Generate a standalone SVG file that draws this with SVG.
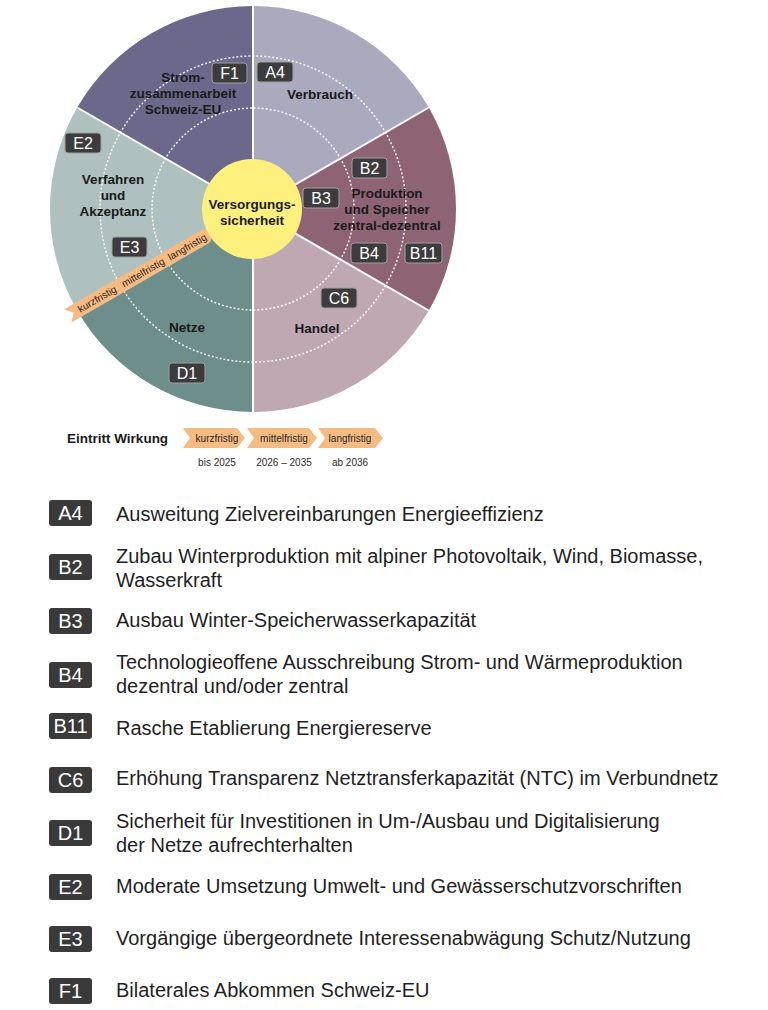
<svg xmlns="http://www.w3.org/2000/svg" width="768" height="1010" viewBox="0 0 768 1010">
<style>
.lbl{font-family:"Liberation Sans",Arial,sans-serif;font-weight:bold;font-size:13.5px;fill:#1a1a1a;text-anchor:middle}
.pb rect{fill:#3c3c3c;stroke:#a0a0a0;stroke-width:1}
.pb text{font-family:"Liberation Sans",Arial,sans-serif;font-size:16px;fill:#fff;text-anchor:middle}
.lb rect{fill:#3a3a3a}
.lb text.k{font-family:"Liberation Sans",Arial,sans-serif;font-size:20px;fill:#fff;text-anchor:middle}
.lt{font-family:"Liberation Sans",Arial,sans-serif;font-size:20px;fill:#1f1f1f}
.sm{font-family:"Liberation Sans",Arial,sans-serif;font-size:10px;fill:#2a2a2a;text-anchor:middle}
.dash{fill:none;stroke:#fff;stroke-width:1.5;stroke-dasharray:2 2;opacity:0.9}
.sep{stroke:#fff;stroke-width:2}
.chev{fill:#f6bb80}
</style>

<g id="seg-F">
<path d="M253,209 L77.2,107.5 A203,203 0 0 1 253,6 Z" fill="#6b688c"/>
</g>
<g id="seg-A">
<path d="M253,209 L253,6 A203,203 0 0 1 428.8,107.5 Z" fill="#aaa9be"/>
</g>
<g id="seg-B">
<path d="M253,209 L428.8,107.5 A203,203 0 0 1 428.8,310.5 Z" fill="#8e6474"/>
</g>
<g id="seg-C">
<path d="M253,209 L428.8,310.5 A203,203 0 0 1 253,412 Z" fill="#c0a8b2"/>
</g>
<g id="seg-D">
<path d="M253,209 L253,412 A203,203 0 0 1 77.2,310.5 Z" fill="#6e8e8b"/>
</g>
<g id="seg-E">
<path d="M253,209 L77.2,310.5 A203,203 0 0 1 77.2,107.5 Z" fill="#afc1be"/>
</g>

<g id="rings">
<circle class="dash" cx="253" cy="209" r="101"/>
<circle class="dash" cx="253" cy="209" r="153"/>
</g>

<g id="connectors">
<line class="sep" x1="253" y1="209" x2="253" y2="6"/>
<line class="sep" x1="253" y1="209" x2="428.8" y2="107.5"/>
<line class="sep" x1="253" y1="209" x2="428.8" y2="310.5"/>
<line class="sep" x1="253" y1="209" x2="253" y2="412"/>
<line class="sep" x1="253" y1="209" x2="77.2" y2="310.5"/>
<line class="sep" x1="253" y1="209" x2="77.2" y2="107.5"/>
</g>

<g id="time-arrow" transform="translate(253,209) rotate(-30)">
<polygon class="chev" points="-214,-7.5 -54,-7.5 -44,0 -54,7.5 -214,7.5 -207,0"/>
<text class="sm" x="-180" y="3.5" font-size="9.5">kurzfristig</text>
<text class="sm" x="-127" y="3.5" font-size="9.5">mittelfristig</text>
<text class="sm" x="-76" y="3.5" font-size="9.5">langfristig</text>
</g>

<g id="center">
<circle cx="252" cy="209" r="50" fill="#fef07c"/>
<text class="lbl" x="252" y="209">Versorgungs-</text>
<text class="lbl" x="252" y="225">sicherheit</text>
</g>

<g id="labels">
<text class="lbl" x="183" y="82">Strom-</text>
<text class="lbl" x="183" y="98">zusammenarbeit</text>
<text class="lbl" x="183" y="114">Schweiz-EU</text>
<text class="lbl" x="320" y="99">Verbrauch</text>
<text class="lbl" x="113" y="184">Verfahren</text>
<text class="lbl" x="113" y="200">und</text>
<text class="lbl" x="113" y="216">Akzeptanz</text>
<text class="lbl" x="387" y="198">Produktion</text>
<text class="lbl" x="387" y="214">und Speicher</text>
<text class="lbl" x="387" y="230">zentral-dezentral</text>
<text class="lbl" x="317" y="333">Handel</text>
<text class="lbl" x="187" y="332">Netze</text>
</g>

<g id="pie-badges" class="pb">
<g id="pb-F1"><rect x="212" y="63" width="35" height="20" rx="3"/><text x="229.5" y="79">F1</text></g>
<g id="pb-A4"><rect x="257" y="62" width="36" height="20" rx="3"/><text x="275" y="78">A4</text></g>
<g id="pb-E2"><rect x="65" y="133" width="36" height="20" rx="3"/><text x="83" y="149">E2</text></g>
<g id="pb-E3"><rect x="112" y="237" width="35" height="20" rx="3"/><text x="129.5" y="253">E3</text></g>
<g id="pb-B2"><rect x="352" y="158" width="35" height="20" rx="3"/><text x="369.5" y="174">B2</text></g>
<g id="pb-B3"><rect x="303" y="188" width="36" height="20" rx="3"/><text x="321" y="204">B3</text></g>
<g id="pb-B4"><rect x="351" y="243" width="36" height="20" rx="3"/><text x="369" y="259">B4</text></g>
<g id="pb-B11"><rect x="405" y="243" width="37" height="20" rx="3"/><text x="423.5" y="259">B11</text></g>
<g id="pb-C6"><rect x="321" y="288" width="36" height="20" rx="3"/><text x="339" y="304">C6</text></g>
<g id="pb-D1"><rect x="169" y="363" width="36" height="20" rx="3"/><text x="187" y="379">D1</text></g>
</g>

<g id="timeline">
<text x="67" y="443" font-family="Liberation Sans, Arial, sans-serif" font-weight="bold" font-size="13.5" fill="#1a1a1a">Eintritt Wirkung</text>
<polygon class="chev" points="183,428 237,428 245,438 237,448 183,448 190,438"/>
<polygon class="chev" points="247,428 309,428 317,438 309,448 247,448 254,438"/>
<polygon class="chev" points="318,428 375,428 383,438 375,448 318,448 325,438"/>
<text class="sm" x="217" y="441.5">kurzfristig</text>
<text class="sm" x="284" y="441.5">mittelfristig</text>
<text class="sm" x="350" y="441.5">langfristig</text>
<text class="sm" x="217" y="466">bis 2025</text>
<text class="sm" x="284" y="466">2026 – 2035</text>
<text class="sm" x="350" y="466">ab 2036</text>
</g>

<g id="legend" class="lb">
<g id="lg-A4"><rect x="49" y="500" width="43" height="26" rx="3"/><text class="k" x="70.5" y="520">A4</text>
<text class="lt" x="116" y="521">Ausweitung Zielvereinbarungen Energieeffizienz</text></g>
<g id="lg-B2"><rect x="49" y="554" width="43" height="26" rx="3"/><text class="k" x="70.5" y="574">B2</text>
<text class="lt" x="116" y="563">Zubau Winterproduktion mit alpiner Photovoltaik, Wind, Biomasse,</text>
<text class="lt" x="116" y="587">Wasserkraft</text></g>
<g id="lg-B3"><rect x="49" y="608" width="43" height="26" rx="3"/><text class="k" x="70.5" y="628">B3</text>
<text class="lt" x="116" y="627">Ausbau Winter-Speicherwasserkapazität</text></g>
<g id="lg-B4"><rect x="49" y="662" width="43" height="26" rx="3"/><text class="k" x="70.5" y="682">B4</text>
<text class="lt" x="116" y="669">Technologieoffene Ausschreibung Strom- und Wärmeproduktion</text>
<text class="lt" x="116" y="693">dezentral und/oder zentral</text></g>
<g id="lg-B11"><rect x="49" y="713" width="43" height="26" rx="3"/><text class="k" x="70.5" y="733">B11</text>
<text class="lt" x="116" y="735">Rasche Etablierung Energiereserve</text></g>
<g id="lg-C6"><rect x="49" y="767" width="43" height="26" rx="3"/><text class="k" x="70.5" y="787">C6</text>
<text class="lt" x="116" y="785">Erhöhung Transparenz Netztransferkapazität (NTC) im Verbundnetz</text></g>
<g id="lg-D1"><rect x="49" y="820" width="43" height="26" rx="3"/><text class="k" x="70.5" y="840">D1</text>
<text class="lt" x="116" y="828">Sicherheit für Investitionen in Um-/Ausbau und Digitalisierung</text>
<text class="lt" x="116" y="852">der Netze aufrechterhalten</text></g>
<g id="lg-E2"><rect x="49" y="874" width="43" height="26" rx="3"/><text class="k" x="70.5" y="894">E2</text>
<text class="lt" x="116" y="893">Moderate Umsetzung Umwelt- und Gewässerschutzvorschriften</text></g>
<g id="lg-E3"><rect x="49" y="926" width="43" height="26" rx="3"/><text class="k" x="70.5" y="946">E3</text>
<text class="lt" x="116" y="945">Vorgängige übergeordnete Interessenabwägung Schutz/Nutzung</text></g>
<g id="lg-F1"><rect x="49" y="978" width="43" height="26" rx="3"/><text class="k" x="70.5" y="998">F1</text>
<text class="lt" x="116" y="997">Bilaterales Abkommen Schweiz-EU</text></g>
</g>
</svg>
